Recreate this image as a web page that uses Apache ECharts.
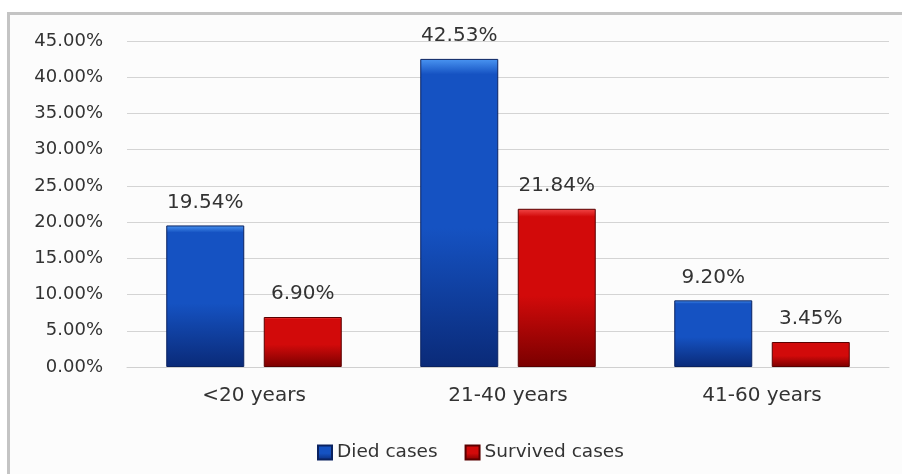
<!DOCTYPE html>
<html>
<head>
<meta charset="utf-8">
<script src="https://cdn.jsdelivr.net/npm/echarts@6/dist/echarts.min.js"></script>
<style>
  html, body { margin: 0; padding: 0; background: #ffffff; }
  #chart { width: 902px; height: 474px; }
</style>
</head>
<body>
<div id="chart"></div>
<script>
// Age groups and share of cases (%) per outcome
const categories = ['<20 years', '21-40 years', '41-60 years'];
const diedCases = [19.54, 42.53, 9.20];
const survivedCases = [6.90, 21.84, 3.45];
const seriesNames = ['Died cases', 'Survived cases'];

const chart = echarts.init(document.getElementById('chart'));

function barGradient(top, mid, bottom) {
  return new echarts.graphic.LinearGradient(0, 0, 0, 1, [
    { offset: 0, color: top },
    { offset: 0.05, color: mid },
    { offset: 0.55, color: mid },
    { offset: 1, color: bottom }
  ]);
}

const blueFill = barGradient('#4a95f2', '#1552c2', '#0a2a78');
const redFill = barGradient('#f24848', '#d20a0a', '#7a0000');

const labelStyle = {
  show: true,
  position: 'top',
  distance: 13,
  fontSize: 20,
  fontFamily: 'DejaVu Sans',
  color: '#333333',
  formatter: p => p.value.toFixed(2) + '%'
};

chart.setOption({
  backgroundColor: '#ffffff',
  animation: false,
  graphic: [
    {
      type: 'rect',
      shape: { x: 8.5, y: 13.5, width: 910, height: 480 },
      style: { fill: '#fcfcfc', stroke: '#c4c4c4', lineWidth: 3 },
      z: -10
    }
  ],
  grid: { left: 127, right: 13, top: 41, bottom: 107, containLabel: false },
  legend: {
    top: 438,
    left: 312,
    itemWidth: 14,
    itemHeight: 14,
    itemGap: 27,
    icon: 'rect',
    textStyle: { fontSize: 18.5, fontFamily: 'DejaVu Sans', color: '#333333' },
    data: seriesNames
  },
  xAxis: {
    type: 'category',
    data: categories,
    axisLine: { show: true, lineStyle: { color: '#d0d0d0', width: 1 } },
    axisTick: { show: false },
    axisLabel: { fontSize: 20, fontFamily: 'DejaVu Sans', color: '#333333', margin: 19 }
  },
  yAxis: {
    type: 'value',
    min: 0,
    max: 45,
    interval: 5,
    axisLine: { show: false },
    axisTick: { show: false },
    splitLine: { lineStyle: { color: '#d4d4d4', width: 1 } },
    axisLabel: {
      fontSize: 18,
      fontFamily: 'DejaVu Sans',
      color: '#333333',
      margin: 24,
      formatter: v => v.toFixed(2) + '%'
    }
  },
  series: [
    {
      name: seriesNames[0],
      type: 'bar',
      data: diedCases,
      barWidth: 78,
      barGap: '25%',
      itemStyle: { color: blueFill, borderColor: '#0a2260', borderWidth: 1 },
      label: labelStyle
    },
    {
      name: seriesNames[1],
      type: 'bar',
      data: survivedCases,
      barWidth: 78,
      itemStyle: { color: redFill, borderColor: '#5a0000', borderWidth: 1 },
      label: labelStyle
    }
  ]
});
</script>
</body>
</html>
